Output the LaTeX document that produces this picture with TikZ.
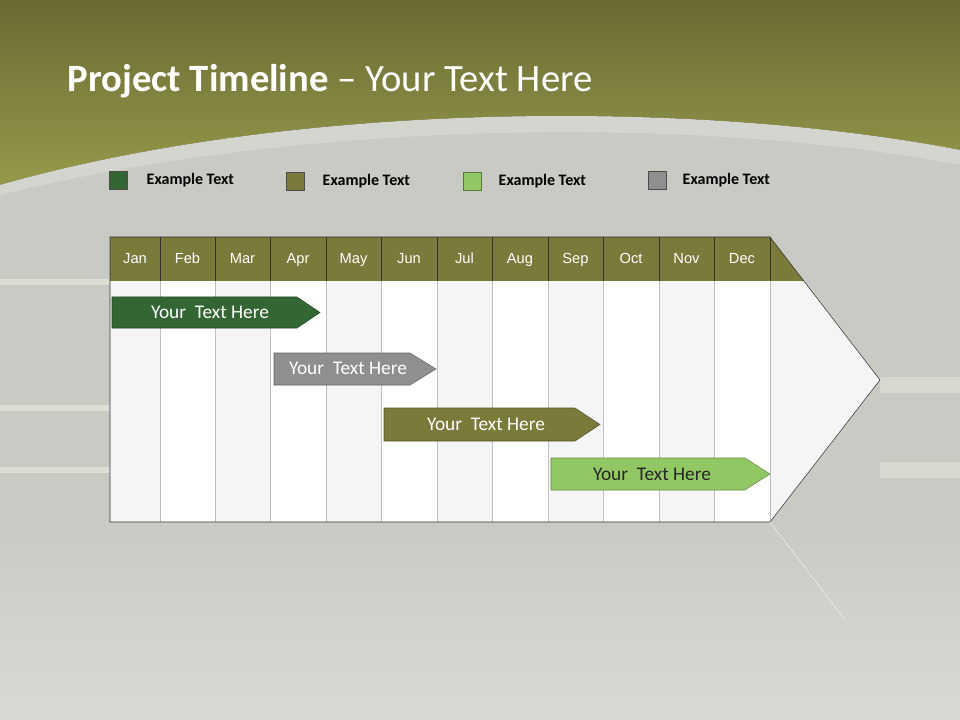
\documentclass[tikz,border=0pt]{standalone}
\usepackage{fontspec}
\setmainfont{Carlito}
\newfontfamily\arialf{Liberation Sans}
\begin{document}
\begin{tikzpicture}[x=0.75pt,y=-0.75pt,
  month/.style={font=\arialf\fontsize{11}{13}\selectfont,text=white,anchor=base},
  bar/.style={draw=#1!70!black,fill=#1},
  bartext/.style={font=\fontsize{14.5}{16}\selectfont,text=white},
  legbox/.style={draw=black!70,minimum width=13.5pt,minimum height=13.5pt,inner sep=0pt},
  legtext/.style={font=\bfseries\fontsize{12}{14}\selectfont,anchor=west}]
\definecolor{bg}{HTML}{C9CAC3}
\definecolor{olv}{HTML}{7A7A3A}
\definecolor{dgreen}{HTML}{336633}
\definecolor{lgreen}{HTML}{92C864}
\definecolor{gry}{HTML}{8F8F8F}
\definecolor{topA}{HTML}{6A6A34}
\definecolor{topB}{HTML}{959A4A}
\useasboundingbox (0,0) rectangle (960,720);
\fill[bg] (0,0) rectangle (960,720);
\fill[bottom color=bg!70!white,top color=bg] (0,520) rectangle (960,720);
% top band
\fill[top color=topA,bottom color=topB] (0,0) -- (960,0) -- (960,150) .. controls (700,100) and (300,100) .. (0,185) -- cycle;
\fill[bg!80!white] (0,185) .. controls (300,100) and (700,100) .. (960,150) -- (960,165) .. controls (700,115) and (300,120) .. (0,195) -- cycle;
% streaks
\foreach \y in {282,408,470}{\fill[white!85!lgreen,opacity=0.45] (0,\y-3) rectangle (110,\y+3);}
\foreach \y in {385,470}{\fill[white!85!lgreen,opacity=0.35] (880,\y-8) rectangle (960,\y+8);}
\node[anchor=west,text=white,font=\fontsize{29}{34}\selectfont] (title) at (63,81) {\textbf{Project Timeline} -- Your Text Here};
% legend
\node[legbox,fill=dgreen] (l1) at (118,180) {};
\node[legtext] (t1) at (142,180) {Example Text};
\node[legbox,fill=olv] (l2) at (295,181) {};
\node[legtext] (t2) at (318,181) {Example Text};
\node[legbox,fill=lgreen,draw=lgreen!60!black] (l3) at (472,181) {};
\node[legtext] (t3) at (494,181) {Example Text};
\node[legbox,fill=gry] (l4) at (657,180) {};
\node[legtext] (t4) at (678,180) {Example Text};
% big arrow
\fill[black!4] (110,237) -- (770,237) -- (880,380) -- (770,522) -- (110,522) -- cycle;
\foreach \a/\b in {160/215,270/326,381/437,492/548,603/659,714/770}{\fill[white] (\a,281) rectangle (\b,522);}
\fill[olv] (110,237) -- (770,237) -- (804,281) -- (110,281) -- cycle;
\foreach \x in {160,215,270,326,381,437,492,548,603,659,714}{\draw[black!25] (\x,281) -- (\x,522); \draw[black!80] (\x,237) -- (\x,281);}
\draw[black!25] (770,281) -- (770,522);
\draw[black!80] (770,237) -- (770,281);
\draw[black!80] (110,237) -- (770,237) -- (880,380) -- (770,522) -- (110,522) -- cycle;
\draw[white!70!bg] (770,522) -- (845,620);
\foreach \m [count=\i from 0] in {Jan,Feb,Mar,Apr,May,Jun,Jul,Aug,Sep,Oct,Nov,Dec}{
  \pgfmathsetmacro\xa{{110,160,215,270,326,381,437,492,548,603,659,714}[\i]}
  \pgfmathsetmacro\xb{{160,215,270,326,381,437,492,548,603,659,714,770}[\i]}
  \node[month] (m\i) at ({(\xa+\xb)/2},264) {\m};}
% bars
\fill[bar=dgreen] (112,297) -- (297,297) -- (320,312.5) -- (297,328) -- (112,328) -- cycle;
\node[bartext] (b1) at (210,312) {Your\ \ Text Here};
\fill[bar=gry] (274,353) -- (410,353) -- (436,369) -- (410,385) -- (274,385) -- cycle;
\node[bartext] (b2) at (348,368) {Your\ \ Text Here};
\fill[bar=olv] (384,408) -- (575,408) -- (600,424.5) -- (575,441) -- (384,441) -- cycle;
\node[bartext] (b3) at (486,424) {Your\ \ Text Here};
\fill[bar=lgreen] (551,458) -- (745,458) -- (770,474) -- (745,490) -- (551,490) -- cycle;
\node[bartext,text=black!85] (b4) at (652,474) {Your\ \ Text Here};
\end{tikzpicture}
\end{document}
